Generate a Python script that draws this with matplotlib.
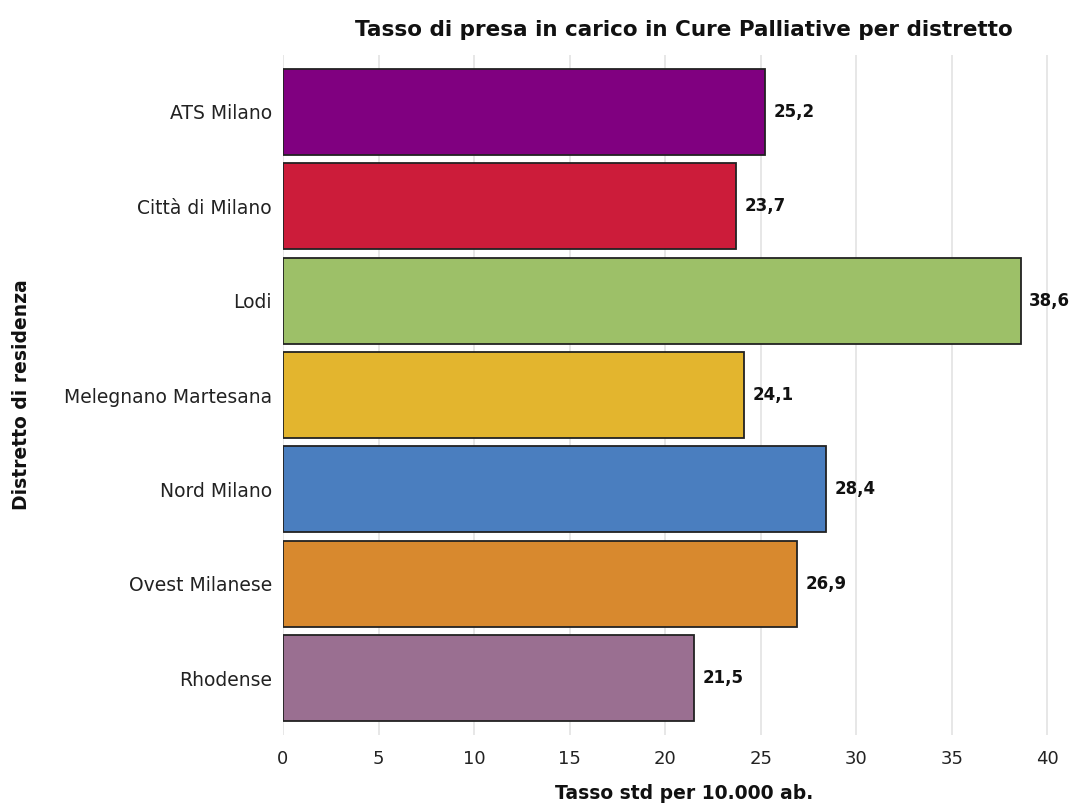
import matplotlib
matplotlib.use("Agg")
import matplotlib.pyplot as plt

plt.rcParams['font.family'] = ['DejaVu Sans']

distretti = ["ATS Milano", "Città di Milano", "Lodi", "Melegnano Martesana",
             "Nord Milano", "Ovest Milanese", "Rhodense"]
tassi = [25.2, 23.7, 38.6, 24.1, 28.4, 26.9, 21.5]
colori = ["#800080", "#CC1C3A", "#9DC068", "#E3B52E", "#4A7EBF", "#D8892E", "#9A6F91"]
xticks = [0, 5, 10, 15, 20, 25, 30, 35, 40]

fig = plt.figure(figsize=(10.75, 8.05), dpi=100)
ax = fig.add_axes([283 / 1075, 1 - 735 / 805, (1057 - 283) / 1075, (735 - 55) / 805])

pos = list(range(len(distretti)))
ax.barh(pos, tassi, height=0.91, color=colori, edgecolor="#222222", linewidth=1.3, zorder=3)

for p, v in zip(pos, tassi):
    ax.text(v + 0.45, p, f"{v:.1f}".replace(".", ","), va="center", ha="left",
            fontsize=12, fontweight="bold", color="#111111", clip_on=False)

ax.set_xlim(0, 40.5)
ax.set_ylim(6.6, -0.6)
ax.set_yticks(pos)
ax.set_yticklabels(distretti, fontsize=13.5, color="#222222")
ax.set_xticks(xticks)
ax.set_xticklabels([str(t) for t in xticks], fontsize=13, color="#222222")
ax.tick_params(axis="y", length=0, pad=8)
ax.tick_params(axis="x", length=0, pad=11)
ax.grid(axis="x", color="#e3e3e3", linewidth=1.2, zorder=0)
for s in ax.spines.values():
    s.set_visible(False)

fig.text(684 / 1075, 1 - 30 / 805, "Tasso di presa in carico in Cure Palliative per distretto",
         ha="center", va="center", fontsize=15.5, fontweight="bold", color="#111111")
fig.text(684 / 1075, 1 - 793 / 805, "Tasso std per 10.000 ab.",
         ha="center", va="center", fontsize=13.5, fontweight="bold", color="#111111")
fig.text(22 / 1075, 1 - 395 / 805, "Distretto di residenza", rotation=90,
         ha="center", va="center", fontsize=13.5, fontweight="bold", color="#111111")

fig.savefig("out.png", dpi=100)
